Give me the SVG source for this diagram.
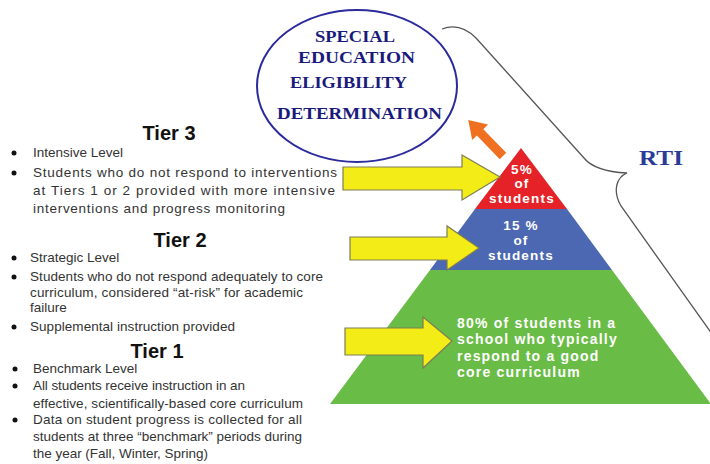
<svg xmlns="http://www.w3.org/2000/svg" width="710" height="464" viewBox="0 0 710 464">
<style>
.title{font-family:"Liberation Sans",Arial,sans-serif;font-weight:bold;font-size:20px;fill:#111;text-anchor:middle}
.bl{font-family:"Liberation Sans",Arial,sans-serif;font-size:13.5px;fill:#333}
.dot{fill:#111}
.el{font-family:"Liberation Serif","Times New Roman",serif;font-weight:bold;font-size:17.5px;fill:#1a1a7c}
.pt{font-family:"Liberation Sans",Arial,sans-serif;font-weight:bold;font-size:14px;fill:#fff;letter-spacing:1.2px}
.ps{font-size:13.5px;letter-spacing:1.2px}
.ptc{text-anchor:middle}
.ya{fill:#f4ec17;stroke:#7d7d55;stroke-width:1.2}
</style>

<g id="eligibility">
  <ellipse cx="357" cy="86" rx="100" ry="76" fill="#fff" stroke="#2b2b9c" stroke-width="2"/>
  <text class="el" x="315" y="42" textLength="80" lengthAdjust="spacingAndGlyphs">SPECIAL</text>
  <text class="el" x="298" y="63" textLength="117" lengthAdjust="spacingAndGlyphs">EDUCATION</text>
  <text class="el" x="290" y="88" textLength="117" lengthAdjust="spacingAndGlyphs">ELIGIBILITY</text>
  <text class="el" x="277" y="119" textLength="165" lengthAdjust="spacingAndGlyphs">DETERMINATION</text>
</g>

<g id="rti">
  <path d="M442 29 C455 24,466 28,476 38 L584 158 C592 168,608 172,627 173 C617 177,612 190,621 206 L712 334" fill="none" stroke="#555" stroke-width="1.3"/>
  <text x="639" y="165" font-family="Liberation Serif,'Times New Roman',serif" font-weight="bold" font-size="20" fill="#2a3c98" textLength="44" lengthAdjust="spacingAndGlyphs">RTI</text>
</g>

<g id="tier-red">
  <polygon points="521,148 475,209 567,209" fill="#e52228"/>
  <text class="pt ps ptc" x="522" y="174">5%</text>
  <text class="pt ps ptc" x="522" y="188">of</text>
  <text class="pt ps ptc" x="522" y="203">students</text>
</g>
<g id="tier-blue">
  <polygon points="475,209 567,209 612,270 430,270" fill="#4c68b2"/>
  <text class="pt ps ptc" x="521" y="230">15 %</text>
  <text class="pt ps ptc" x="521" y="245">of</text>
  <text class="pt ps ptc" x="521" y="260">students</text>
</g>
<g id="tier-green">
  <polygon points="430,270 612,270 711,404 330,404" fill="#69bc45"/>
  <text class="pt" x="457" y="328">80% of students in a</text>
  <text class="pt" x="457" y="344">school who typically</text>
  <text class="pt" x="457" y="361">respond to a good</text>
  <text class="pt" x="457" y="377">core curriculum</text>
</g>

<g id="tier3-text">
  <text class="title" x="169" y="140">Tier 3</text>
  <circle class="dot" cx="14" cy="153" r="2.5"/>
  <text class="bl" x="33" y="157">Intensive Level</text>
  <circle class="dot" cx="14" cy="173" r="2.5"/>
  <text class="bl" x="33" y="177" textLength="304">Students who do not respond to interventions</text>
  <text class="bl" x="33" y="195" textLength="302">at Tiers 1 or 2 provided with more intensive</text>
  <text class="bl" x="33" y="213" textLength="252">interventions and progress monitoring</text>
</g>

<g id="tier2-text">
  <text class="title" x="180" y="247">Tier 2</text>
  <circle class="dot" cx="14" cy="258" r="2.5"/>
  <text class="bl" x="30" y="262">Strategic Level</text>
  <circle class="dot" cx="14" cy="277" r="2.5"/>
  <text class="bl" x="30" y="281" textLength="293">Students who do not respond adequately to core</text>
  <text class="bl" x="30" y="297" textLength="273">curriculum, considered “at-risk” for academic</text>
  <text class="bl" x="30" y="312">failure</text>
  <circle class="dot" cx="14" cy="327" r="2.5"/>
  <text class="bl" x="30" y="331" textLength="205">Supplemental instruction provided</text>
</g>

<g id="tier1-text">
  <text class="title" x="157" y="358">Tier 1</text>
  <circle class="dot" cx="15" cy="369" r="2.5"/>
  <text class="bl" x="33" y="373">Benchmark Level</text>
  <circle class="dot" cx="15" cy="386" r="2.5"/>
  <text class="bl" x="33" y="390" textLength="212">All students receive instruction in an</text>
  <text class="bl" x="33" y="408" textLength="270">effective, scientifically-based core curriculum</text>
  <circle class="dot" cx="15" cy="420" r="2.5"/>
  <text class="bl" x="33" y="424" textLength="269">Data on student progress is collected for all</text>
  <text class="bl" x="33" y="441" textLength="269">students at three “benchmark” periods during</text>
  <text class="bl" x="33" y="458" textLength="175">the year (Fall, Winter, Spring)</text>
</g>

<g id="connectors">
  <polygon class="ya" points="343,167 462,167 462,155 500,177 462,200 462,190 343,190"/>
  <polygon class="ya" points="350,237 447,237 447,226 479,248 447,270 447,260 350,260"/>
  <polygon class="ya" points="345,328 423,328 423,317 452,341 423,368 423,355 345,355"/>
  <polygon transform="translate(503,156) rotate(-134)" points="0,-4.5 33,-4.5 33,-11 50,0 33,11 33,4.5 0,4.5" fill="#f07022"/>
</g>
</svg>
